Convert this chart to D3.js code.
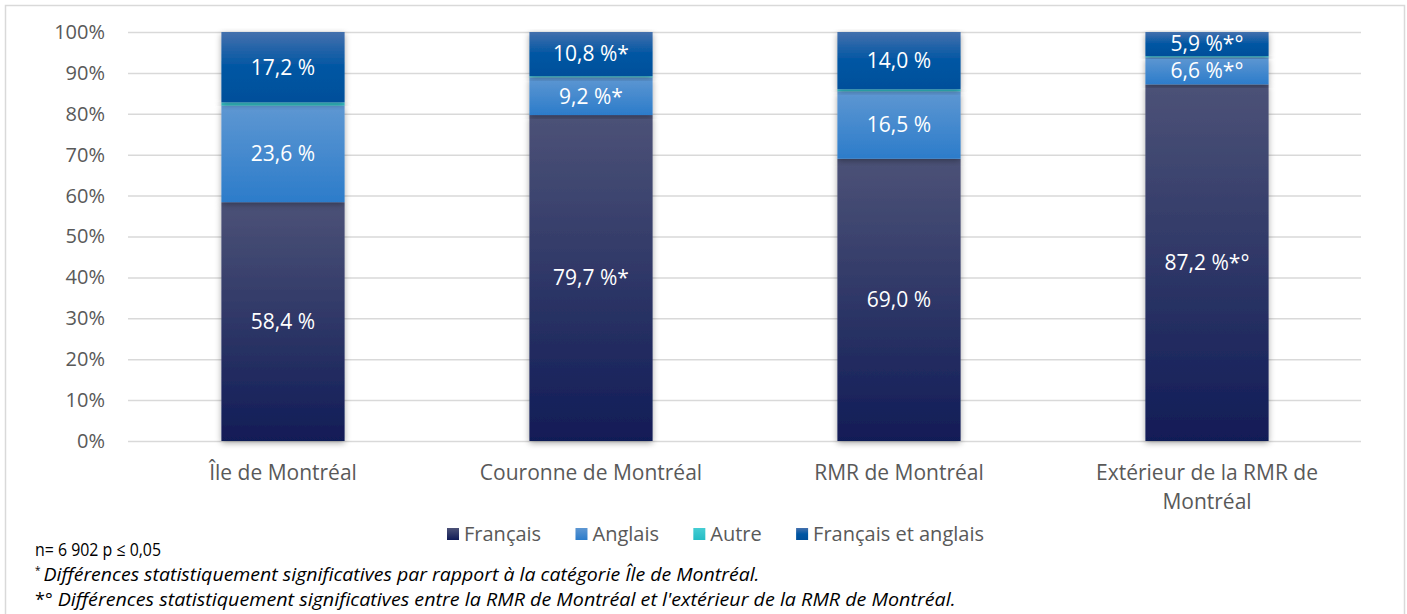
<!DOCTYPE html>
<html>
<head>
  <meta charset="utf-8">
  <title>Langue par région</title>
  <script src="https://d3js.org/d3.v7.min.js"></script>
  <style>
    body { margin: 0; background: #fff; }
    svg text { font-family: "Open Sans", sans-serif; }
    .tick text { fill: #595959; font-size: 20px; }
    .cat { fill: #595959; font-size: 21px; }
    .val { fill: #fff; font-size: 21px; }
    .leg { fill: #595959; font-size: 20px; }
    .note { fill: #000; font-size: 18px; }
  </style>
</head>
<body>
<svg id="chart" width="1407" height="614"></svg>
<script>
  // data
  var categories = ["Île de Montréal", "Couronne de Montréal", "RMR de Montréal", "Extérieur de la RMR de Montréal"];
  var series = ["Français", "Anglais", "Autre", "Français et anglais"];
  var francais = [58.4, 79.7, 69.0, 87.2];
  var anglais = [23.6, 9.2, 16.5, 6.6];
  var autre = [0.8, 0.3, 0.5, 0.3];
  var francaisAnglais = [17.2, 10.8, 14.0, 5.9];
  var valueLabels = [
    ["58,4 %", "79,7 %*", "69,0 %", "87,2 %*°"],
    ["23,6 %", "9,2 %*", "16,5 %", "6,6 %*°"],
    ["", "", "", ""],
    ["17,2 %", "10,8 %*", "14,0 %", "5,9 %*°"]
  ];
  var yTicks = [0, 10, 20, 30, 40, 50, 60, 70, 80, 90, 100];

  var colors = {
    "Français": ["#4c5277", "#111c57"],
    "Anglais": ["#5e97d2", "#2c7cca"],
    "Autre": ["#45cdd3", "#25bcc5"],
    "Français et anglais": ["#4470ad", "#0056a3", "#004f9a"]
  };

  var rows = categories.map(function (c, i) {
    return { cat: c, "Français": francais[i], "Anglais": anglais[i], "Autre": autre[i], "Français et anglais": francaisAnglais[i] };
  });

  var svg = d3.select("#chart");
  var defs = svg.append("defs");

  series.forEach(function (s, k) {
    var g = defs.append("linearGradient").attr("id", "grad" + k)
      .attr("x1", 0).attr("y1", 0).attr("x2", 0).attr("y2", 1);
    var cs = colors[s];
    cs.forEach(function (c, j) {
      g.append("stop").attr("offset", (j / (cs.length - 1) * 100) + "%").attr("stop-color", c);
    });
  });

  var f = defs.append("filter").attr("id", "shadow")
    .attr("x", "-20%").attr("y", "-5%").attr("width", "140%").attr("height", "115%");
  f.append("feDropShadow").attr("dx", 0).attr("dy", 2).attr("stdDeviation", 3)
    .attr("flood-color", "#000").attr("flood-opacity", 0.35);

  // outer frame
  svg.append("rect").attr("x", 5.5).attr("y", 5.5).attr("width", 1399).attr("height", 620)
    .attr("fill", "none").attr("stroke", "#d9d9d9").attr("stroke-width", 1.5);

  var x = d3.scaleBand().domain(categories).range([129, 1361]).paddingInner(0.6).paddingOuter(0.3);
  var y = d3.scaleLinear().domain([0, 100]).range([441, 32]);

  // gridlines + y axis
  var yAxis = svg.append("g").attr("transform", "translate(128,0)")
    .call(d3.axisLeft(y).tickValues(yTicks).tickFormat(function (d) { return d + "%"; })
      .tickSize(-1233).tickPadding(23));
  yAxis.select(".domain").remove();
  yAxis.selectAll(".tick line").attr("stroke", "#d9d9d9").attr("stroke-width", 1.5);

  var stack = d3.stack().keys(series)(rows);

  var layers = svg.append("g").selectAll("g").data(stack).join("g")
    .attr("fill", function (d, k) { return "url(#grad" + k + ")"; });

  layers.selectAll("rect").data(function (d) { return d; }).join("rect")
    .attr("x", function (d) { return x(d.data.cat); })
    .attr("width", x.bandwidth())
    .attr("y", function (d) { return y(d[1]); })
    .attr("height", function (d) { return y(d[0]) - y(d[1]); })
    .attr("filter", "url(#shadow)");

  // value labels
  stack.forEach(function (layer, k) {
    svg.append("g").selectAll("text").data(layer).join("text")
      .attr("class", "val")
      .attr("text-anchor", "middle")
      .attr("x", function (d) { return x(d.data.cat) + x.bandwidth() / 2; })
      .attr("y", function (d) { return y((d[0] + d[1]) / 2); })
      .attr("dy", "0.35em")
      .text(function (d, i) { return valueLabels[k][i]; });
  });

  // category labels
  var catLines = [["Île de Montréal"], ["Couronne de Montréal"], ["RMR de Montréal"], ["Extérieur de la RMR de", "Montréal"]];
  categories.forEach(function (c, i) {
    var t = svg.append("text").attr("class", "cat").attr("text-anchor", "middle")
      .attr("x", x(c) + x.bandwidth() / 2).attr("y", 480);
    catLines[i].forEach(function (ln, j) {
      t.append("tspan").attr("x", x(c) + x.bandwidth() / 2).attr("dy", j === 0 ? 0 : 29).text(ln);
    });
  });

  // legend, laid out from measured text widths between x=447 and x=984
  var leg = svg.append("g").selectAll("g").data(series).join("g");
  leg.append("rect").attr("width", 12).attr("height", 12)
    .attr("fill", function (d, k) { return "url(#grad" + k + ")"; });
  leg.append("text").attr("class", "leg").attr("x", 17).attr("y", 6).attr("dy", "0.35em")
    .text(function (d) { return d; });
  var widths = [];
  leg.each(function () { widths.push(17 + d3.select(this).select("text").node().getComputedTextLength()); });
  var gap = (984 - 447 - d3.sum(widths)) / (series.length - 1);
  var lx = 447;
  leg.attr("transform", function (d, i) {
    var t = "translate(" + lx + ",528)";
    lx += widths[i] + gap;
    return t;
  });

  // notes
  svg.append("text").attr("class", "note").attr("x", 35).attr("y", 556)
    .attr("textLength", 126).attr("lengthAdjust", "spacingAndGlyphs")
    .text("n= 6 902 p ≤ 0,05");
  var n2 = svg.append("text").attr("class", "note").attr("x", 35).attr("y", 581);
  n2.append("tspan").attr("font-size", 10).attr("dy", -7).text("*");
  n2.append("tspan").attr("font-style", "italic").attr("dx", 3).attr("dy", 7)
    .attr("textLength", 716).attr("lengthAdjust", "spacingAndGlyphs")
    .text("Différences statistiquement significatives par rapport à la catégorie Île de Montréal.");
  var n3 = svg.append("text").attr("class", "note").attr("x", 35).attr("y", 606);
  n3.append("tspan").text("*°");
  n3.append("tspan").attr("font-style", "italic").attr("dx", 5)
    .attr("textLength", 898).attr("lengthAdjust", "spacingAndGlyphs")
    .text("Différences statistiquement significatives entre la RMR de Montréal et l'extérieur de la RMR de Montréal.");
</script>
</body>
</html>
